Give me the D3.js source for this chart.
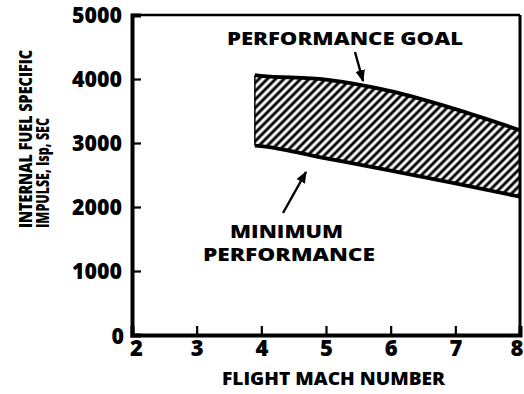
<!DOCTYPE html>
<html>
<head>
<meta charset="utf-8">
<script src="https://cdn.jsdelivr.net/npm/d3@7"></script>
<style>
  html, body { margin: 0; padding: 0; background: #fff; }
  svg text { font-family: "Open Sans", "DejaVu Sans", sans-serif; font-weight: 800; fill: #000; }
</style>
</head>
<body>
<svg id="chart" width="524" height="394"></svg>
<script>
// Flight Mach number samples for the two boundary curves
const mach = [3.9, 4, 5, 6, 7, 8];
// Performance goal (upper bound) specific impulse, sec
const goalIsp = [4060, 4050, 3990, 3810, 3530, 3200];
// Minimum performance (lower bound) specific impulse, sec
const minIsp = [2960, 2950, 2760, 2570, 2370, 2160];
// Axis ticks
const xTicks = [2, 3, 4, 5, 6, 7, 8];
const yTicks = [0, 1000, 2000, 3000, 4000, 5000];

const svg = d3.select("#chart");
const x = d3.scaleLinear().domain([2, 8]).range([132, 520]);
const y = d3.scaleLinear().domain([0, 5000]).range([335, 15]);

// Diagonal hatch for the band between the curves
const defs = svg.append("defs");
const pat = defs.append("pattern")
  .attr("id", "hatch")
  .attr("patternUnits", "userSpaceOnUse")
  .attr("width", 5.9).attr("height", 10)
  .attr("patternTransform", "rotate(45)");
pat.append("line")
  .attr("x1", 2.95).attr("y1", -2).attr("x2", 2.95).attr("y2", 12)
  .attr("stroke", "#000").attr("stroke-width", 2.9);

const band = mach.map((m, i) => ({ m, hi: goalIsp[i], lo: minIsp[i] }));

const area = d3.area()
  .x(d => x(d.m)).y0(d => y(d.lo)).y1(d => y(d.hi))
  .curve(d3.curveMonotoneX);
svg.append("path").datum(band)
  .attr("d", area).attr("fill", "url(#hatch)");

const lineHi = d3.line().x(d => x(d.m)).y(d => y(d.hi)).curve(d3.curveMonotoneX);
const lineLo = d3.line().x(d => x(d.m)).y(d => y(d.lo)).curve(d3.curveMonotoneX);
svg.append("path").datum(band).attr("d", lineHi)
  .attr("fill", "none").attr("stroke", "#000").attr("stroke-width", 3.8);
svg.append("path").datum(band).attr("d", lineLo)
  .attr("fill", "none").attr("stroke", "#000").attr("stroke-width", 3.8);
// left closing edge of the band
svg.append("line")
  .attr("x1", x(mach[0])).attr("x2", x(mach[0]))
  .attr("y1", y(goalIsp[0])).attr("y2", y(minIsp[0]))
  .attr("stroke", "#000").attr("stroke-width", 1.5);

// Frame: top and right edges
svg.append("line").attr("x1", x(2)).attr("x2", x(8)).attr("y1", y(5000)).attr("y2", y(5000))
  .attr("stroke", "#000").attr("stroke-width", 2.6);
svg.append("line").attr("x1", x(8)).attr("x2", x(8)).attr("y1", y(5000)).attr("y2", y(0))
  .attr("stroke", "#000").attr("stroke-width", 3);

// Axes with inward ticks
const xAxis = d3.axisBottom(x).tickValues(xTicks).tickSize(-9).tickPadding(5).tickFormat(d3.format("d"));
const yAxis = d3.axisLeft(y).tickValues(yTicks).tickSize(-9).tickPadding(10).tickFormat(d3.format("d"));

const gx = svg.append("g").attr("transform", `translate(0,${y(0)})`).call(xAxis);
const gy = svg.append("g").attr("transform", `translate(${x(2)},0)`).call(yAxis);
[gx, gy].forEach(g => {
  g.select(".domain").attr("stroke", "#000").attr("stroke-width", 4);
  g.selectAll(".tick line").attr("stroke", "#000").attr("stroke-width", 2.2);
  g.selectAll("text").style("font-size", "22px").attr("fill", "#000");
});
gx.selectAll(".tick").filter(d => d === 2 || d === 8).select("line").remove();
gy.selectAll(".tick").filter(d => d === 0 || d === 5000).select("line").remove();
gx.selectAll(".tick").filter(d => d === 2).select("text").attr("x", 4);
// the last label sits against the right edge of the page
gx.selectAll(".tick").filter(d => d === 8).select("text")
  .attr("text-anchor", "end").attr("x", 523 - x(8));
gy.selectAll(".tick").filter(d => d === 0).select("text").attr("dy", "0.38em").attr("x", -8);
gy.selectAll(".tick text").attr("textLength", function(d) { return String(d).length * 12.5; })
  .attr("lengthAdjust", "spacingAndGlyphs");

// Axis titles
svg.append("text")
  .attr("transform", "translate(32,228) rotate(-90)")
  .style("font-size", "17px")
  .attr("textLength", 178).attr("lengthAdjust", "spacingAndGlyphs")
  .text("INTERNAL FUEL SPECIFIC");
svg.append("text")
  .attr("transform", "translate(49,228) rotate(-90)")
  .style("font-size", "17px")
  .attr("textLength", 110).attr("lengthAdjust", "spacingAndGlyphs")
  .text("IMPULSE, Isp, SEC");
svg.append("text")
  .attr("x", 222).attr("y", 385)
  .style("font-size", "18px")
  .attr("textLength", 223).attr("lengthAdjust", "spacingAndGlyphs")
  .text("FLIGHT MACH NUMBER");

// Curve annotations with leader arrows
svg.append("text")
  .attr("x", 227).attr("y", 45)
  .style("font-size", "18px")
  .attr("textLength", 236).attr("lengthAdjust", "spacingAndGlyphs")
  .text("PERFORMANCE GOAL");
svg.append("text")
  .attr("x", 230).attr("y", 238)
  .style("font-size", "18px")
  .attr("textLength", 113).attr("lengthAdjust", "spacingAndGlyphs")
  .text("MINIMUM");
svg.append("text")
  .attr("x", 203).attr("y", 261)
  .style("font-size", "18px")
  .attr("textLength", 172).attr("lengthAdjust", "spacingAndGlyphs")
  .text("PERFORMANCE");

defs.append("marker")
  .attr("id", "arrow").attr("viewBox", "0 0 10 10")
  .attr("refX", 9).attr("refY", 5)
  .attr("markerWidth", 5).attr("markerHeight", 5)
  .attr("orient", "auto")
  .append("path").attr("d", "M0,1 L10,5 L0,9 Z").attr("fill", "#000");

svg.append("line")
  .attr("x1", 355).attr("y1", 52).attr("x2", 363).attr("y2", 81)
  .attr("stroke", "#000").attr("stroke-width", 2.4)
  .attr("marker-end", "url(#arrow)");
svg.append("line")
  .attr("x1", 283).attr("y1", 213).attr("x2", 306).attr("y2", 172)
  .attr("stroke", "#000").attr("stroke-width", 2.4)
  .attr("marker-end", "url(#arrow)");
</script>
</body>
</html>
